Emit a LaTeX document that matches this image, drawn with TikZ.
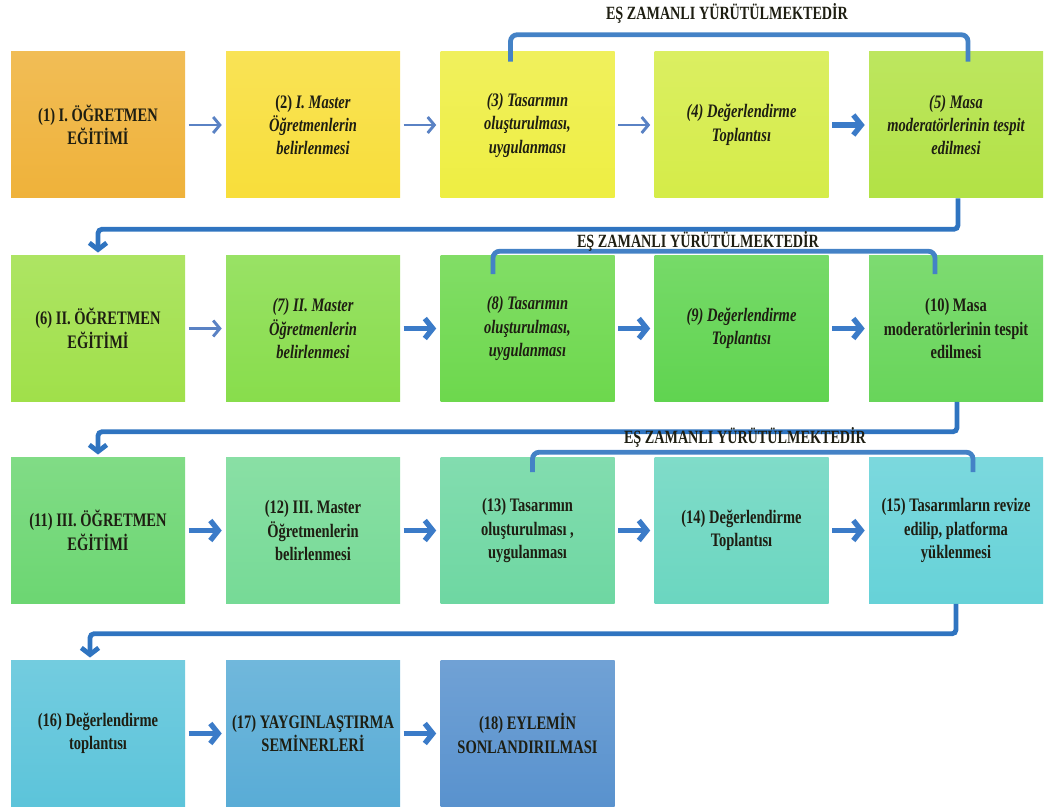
\documentclass[tikz,border=0pt]{standalone}
\usepackage{fontspec}
\setmainfont{Liberation Serif}[FakeStretch=0.76]
\usetikzlibrary{arrows.meta,calc}

% box fills, warm to cool along the process
\definecolor{c1}{HTML}{EFB23A}
\definecolor{c2}{HTML}{F8DE3A}
\definecolor{c3}{HTML}{EEEE42}
\definecolor{c4}{HTML}{D5EC48}
\definecolor{c5}{HTML}{B2E245}
\definecolor{c6}{HTML}{A0E04A}
\definecolor{c7}{HTML}{88DD4C}
\definecolor{c8}{HTML}{6DD84D}
\definecolor{c9}{HTML}{60D450}
\definecolor{c10}{HTML}{68D55A}
\definecolor{c11}{HTML}{6CD672}
\definecolor{c12}{HTML}{76DA96}
\definecolor{c13}{HTML}{6ED7A2}
\definecolor{c14}{HTML}{6BD6C0}
\definecolor{c15}{HTML}{66D2D8}
\definecolor{c16}{HTML}{5CC4DA}
\definecolor{c17}{HTML}{59ACD6}
\definecolor{c18}{HTML}{5992CE}
\definecolor{textc}{HTML}{1E1E12}
\definecolor{thinc}{HTML}{5A82C4}
\definecolor{thickc}{HTML}{3B7BC8}
\definecolor{linec}{HTML}{2F74C0}

\begin{document}
\begin{tikzpicture}[x=0.75pt,y=-0.75pt,
  box/.style={minimum width=130.5pt,minimum height=109.5pt,inner sep=2pt,
    align=center,text=textc,top color=#1!86!white,bottom color=#1,
    font=\fontsize{14.3}{17.6}\selectfont\bfseries},
  thinarrow/.style={draw=thinc,line width=2.2pt,
    -{Straight Barb[length=5pt,width=12pt]},shorten <=2.5pt,shorten >=3pt},
  thickarrow/.style={draw=thickc,line width=4pt,
    -{Straight Barb[length=6pt,width=15pt]},shorten <=2.5pt,shorten >=3pt},
  ret/.style={draw=linec,line width=3.6pt,rounded corners=3pt,
    -{Straight Barb[length=5pt,width=13pt]},shorten >=2pt},
  bracket/.style={draw=linec!90!white,line width=3.6pt,rounded corners=5pt},
  lbl/.style={text=textc,font=\fontsize{14}{16}\selectfont\bfseries}]
\useasboundingbox (0,0) rectangle (1049,812);

% row 1
\node[box=c1]  (b1)  at (98,125)    {(1) I. ÖĞRETMEN\\EĞİTİMİ};
\node[box=c2]  (b2)  at (313,125)   {(2) \textit{I. Master}\\\textit{Öğretmenlerin}\\\textit{belirlenmesi}};
\node[box=c3]  (b3)  at (527.5,125) {\itshape (3) Tasarımın\\\itshape oluşturulması,\\\itshape uygulanması};
\node[box=c4]  (b4)  at (741.5,125) {\itshape (4) Değerlendirme\\\itshape Toplantısı};
\node[box=c5]  (b5)  at (956,125)   {\itshape (5) Masa\\\itshape moderatörlerinin tespit\\\itshape edilmesi};
% row 2
\node[box=c6]  (b6)  at (98,328.5)    {(6) II. ÖĞRETMEN\\EĞİTİMİ};
\node[box=c7]  (b7)  at (313,328.5)   {\itshape (7) II. Master\\\itshape Öğretmenlerin\\\itshape belirlenmesi};
\node[box=c8]  (b8)  at (527.5,328.5) {\itshape (8) Tasarımın\\\itshape oluşturulması,\\\itshape uygulanması};
\node[box=c9]  (b9)  at (741.5,328.5) {\itshape (9) Değerlendirme\\\itshape Toplantısı};
\node[box=c10] (b10) at (956,328.5)   {(10) Masa\\moderatörlerinin tespit\\edilmesi};
% row 3
\node[box=c11] (b11) at (98,530.5)    {(11) III. ÖĞRETMEN\\EĞİTİMİ};
\node[box=c12] (b12) at (313,530.5)   {(12) III. Master\\Öğretmenlerin\\belirlenmesi};
\node[box=c13] (b13) at (527.5,530.5) {(13) Tasarımın\\oluşturulması ,\\uygulanması};
\node[box=c14] (b14) at (741.5,530.5) {(14) Değerlendirme\\Toplantısı};
\node[box=c15] (b15) at (956,530.5)   {(15) Tasarımların revize\\edilip, platforma\\yüklenmesi};
% row 4
\node[box=c16] (b16) at (98,733.5)    {(16) Değerlendirme\\toplantısı};
\node[box=c17] (b17) at (313,733.5)   {(17) YAYGINLAŞTIRMA\\SEMİNERLERİ};
\node[box=c18] (b18) at (527.5,733.5) {(18) EYLEMİN\\SONLANDIRILMASI};

% arrows within rows
\draw[thinarrow]  (b1) -- (b2);
\draw[thinarrow]  (b2) -- (b3);
\draw[thinarrow]  (b3) -- (b4);
\draw[thickarrow] (b4) -- (b5);
\draw[thinarrow]  (b6) -- (b7);
\draw[thickarrow] (b7) -- (b8);
\draw[thickarrow] (b8) -- (b9);
\draw[thickarrow] (b9) -- (b10);
\draw[thickarrow] (b11) -- (b12);
\draw[thickarrow] (b12) -- (b13);
\draw[thickarrow] (b13) -- (b14);
\draw[thickarrow] (b14) -- (b15);
\draw[thickarrow] (b16) -- (b17);
\draw[thickarrow] (b17) -- (b18);

% returns to the next row
\draw[ret] ($(b5.south)+(2,0)$) -- ++(0,31) -| (b6.north);
\draw[ret] ($(b10.south)+(1,0)$) -- ++(0,30) -| (b11.north);
\draw[ret] ($(b15.south)+(0,0)$) -- ++(0,30) -| ($(b16.north)+(-8,0)$);

% concurrency brackets
\draw[bracket] ($(b3.north)+(-17,10)$) |- ($(b5.north)+(12,-17)$) -- ($(b5.north)+(12,10)$);
\draw[bracket] ($(b8.north)+(-34.5,19)$) |- ($(b10.north)+(-21,-4)$) -- ($(b10.north)+(-21,19)$);
\draw[bracket] ($(b13.north)+(5,15)$) |- ($(b15.north)+(17,-5)$) -- ($(b15.north)+(17,15)$);

\node[lbl] (t1) at (727,13)  {EŞ ZAMANLI YÜRÜTÜLMEKTEDİR};
\node[lbl] (t2) at (698,241) {EŞ ZAMANLI YÜRÜTÜLMEKTEDİR};
\node[lbl] (t3) at (745,437) {EŞ ZAMANLI YÜRÜTÜLMEKTEDİR};
\end{tikzpicture}
\end{document}
